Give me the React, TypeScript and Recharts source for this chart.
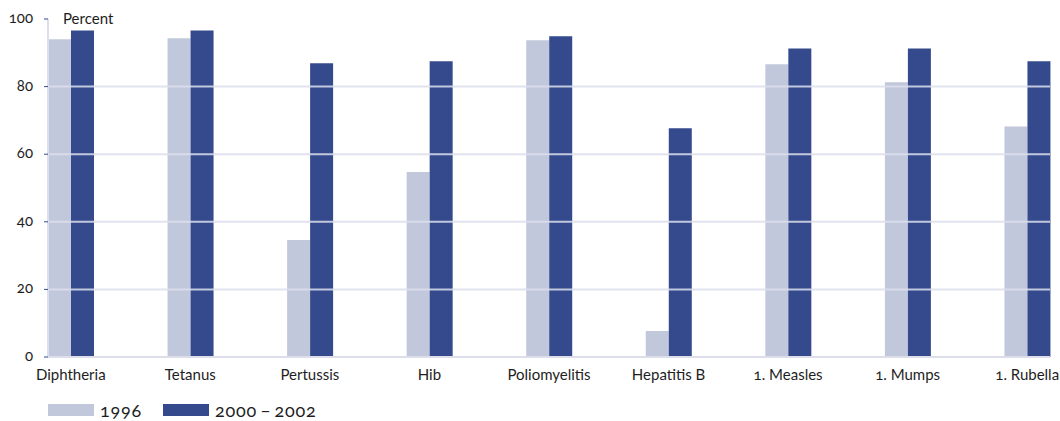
import { Bar, BarChart, ReferenceLine, XAxis, YAxis } from 'recharts';

const categories = [
  'Diphtheria',
  'Tetanus',
  'Pertussis',
  'Hib',
  'Poliomyelitis',
  'Hepatitis B',
  '1. Measles',
  '1. Mumps',
  '1. Rubella',
];
const values1996 = [94.0, 94.3, 34.6, 54.7, 93.7, 7.7, 86.6, 81.3, 68.2];
const values2000 = [96.6, 96.6, 86.9, 87.5, 94.9, 67.7, 91.3, 91.3, 87.5];
const yTicks = [0, 20, 40, 60, 80, 100];
const gridValues = [20, 40, 60, 80];

const data = categories.map((name, i) => ({ name, y1996: values1996[i], y2000: values2000[i] }));

const FONT = 'Lato, "Open Sans", sans-serif';
const ONUM = '"onum" 1';
const LIGHT = '#c2c8dc';
const DARK = '#344a8c';
const LINE = '#dcdeec';
const TEXT = '#1e1e1e';
const textStyle = { fontFamily: FONT, fontFeatureSettings: ONUM, fontSize: 15, fill: TEXT };

function XTick(props: any) {
  const { x, y, payload } = props;
  return (
    <text x={x} y={y} dy={11} textAnchor="middle" style={textStyle}>
      {payload.value}
    </text>
  );
}

function YTick(props: any) {
  const { x, y, payload } = props;
  return (
    <text x={x} y={y} dy={4} textAnchor="end" style={textStyle}>
      {payload.value}
    </text>
  );
}

export default function App() {
  return (
    <div
      style={{
        position: 'absolute',
        left: 0,
        top: 0,
        width: 1060,
        height: 421,
        overflow: 'hidden',
        background: '#fff',
        fontFamily: FONT,
        fontFeatureSettings: ONUM,
        color: TEXT,
      }}
    >
      <BarChart
        width={1060}
        height={421}
        data={data}
        margin={{ top: 19, right: 10, left: 0, bottom: 34 }}
        barGap={0}
      >
        <XAxis
          dataKey="name"
          interval={0}
          height={30}
          padding={{ left: -37, right: -37 }}
          tickLine={false}
          tickMargin={6}
          axisLine={{ stroke: LINE, strokeWidth: 2 }}
          tick={<XTick />}
        />
        <YAxis
          width={48}
          domain={[0, 100]}
          ticks={yTicks}
          tickSize={4}
          tickMargin={11}
          tickLine={{ stroke: DARK }}
          axisLine={{ stroke: LINE, strokeWidth: 2 }}
          tick={<YTick />}
        />
        <YAxis
          yAxisId="right"
          orientation="right"
          width={0}
          tick={false}
          tickLine={false}
          axisLine={{ stroke: LINE, strokeWidth: 2 }}
        />
        <Bar dataKey="y1996" fill={LIGHT} barSize={23} isAnimationActive={false} />
        <Bar dataKey="y2000" fill={DARK} barSize={23} isAnimationActive={false} />
        {gridValues.map((v) => (
          <ReferenceLine key={v} y={v} stroke={LINE} strokeWidth={2} strokeOpacity={0.85} />
        ))}
      </BarChart>

      <div style={{ position: 'absolute', left: 63, top: 9, fontSize: 15, lineHeight: '18px' }}>Percent</div>

      <div
        style={{
          position: 'absolute',
          left: 48,
          top: 399,
          display: 'flex',
          alignItems: 'center',
          fontSize: 18,
          lineHeight: '22px',
          letterSpacing: 0.8,
        }}
      >
        <span style={{ display: 'inline-block', width: 46, height: 12, background: LIGHT, marginRight: 6 }} />
        <span style={{ display: 'inline-block', width: 63 }}>1996</span>
        <span style={{ display: 'inline-block', width: 46, height: 12, background: DARK, marginRight: 6 }} />
        <span>2000{'\u2009–\u2009'}2002</span>
      </div>
    </div>
  );
}
